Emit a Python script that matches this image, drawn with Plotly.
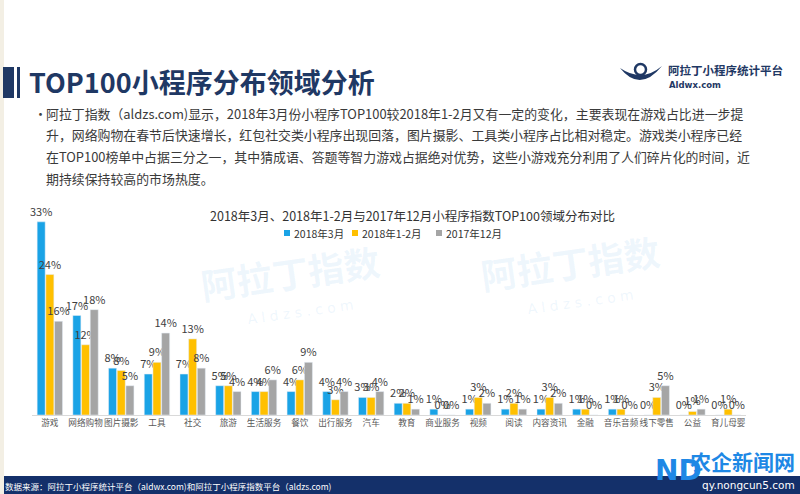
import plotly.graph_objects as go

categories = ["游戏", "网络购物", "图片摄影", "工具", "社交", "旅游", "生活服务", "餐饮", "出行服务", "汽车",
              "教育", "商业服务", "视频", "阅读", "内容资讯", "金融", "音乐音频", "线下零售", "公益", "育儿母婴"]
series_names = ["2018年3月", "2018年1-2月", "2017年12月"]
mar_2018 = [33, 17, 8, 7, 7, 5, 4, 4, 4, 3, 2, 1, 1, 1, 1, 1, 1, 0, 0, 0]
janfeb_2018 = [24, 12, 7.6, 9, 13, 5, 4, 6, 2.6, 3, 2, 0, 3, 2, 3, 1, 1, 3, 0.6, 1]
dec_2017 = [16, 18, 5, 14, 8, 4, 6, 9, 4, 4, 1, 0, 2, 1, 2, 0, 0, 5, 1, 0]
colors = ["#1AA3E6", "#FFC000", "#A5A5A5"]

paragraph = [
    "阿拉丁指数（aldzs.com)显示，2018年3月份小程序TOP100较2018年1-2月又有一定的变化，主要表现在游戏占比进一步提",
    "升，网络购物在春节后快速增长，红包社交类小程序出现回落，图片摄影、工具类小程序占比相对稳定。游戏类小程序已经",
    "在TOP100榜单中占据三分之一，其中猜成语、答题等智力游戏占据绝对优势，这些小游戏充分利用了人们碎片化的时间，近",
    "期持续保持较高的市场热度。",
]

W, H = 800, 494
def px(x):
    return x / W
def py(y):
    return 1 - y / H

FONT = "Noto Sans CJK SC"
fig = go.Figure()
for name, vals, col in zip(series_names, [mar_2018, janfeb_2018, dec_2017], colors):
    fig.add_trace(go.Bar(
        x=categories, y=vals, name=name, marker_color=col,
        texttemplate="%{y:.0f}%", textposition="outside", cliponaxis=False,
        constraintext="none",
        textfont=dict(family=FONT, size=11, color="#404040"),
    ))

annotations = []
# title
annotations.append(dict(x=px(27), y=py(81), xref="paper", yref="paper", xanchor="left", yanchor="middle",
                        text="<b>TOP100小程序分布领域分析</b>", showarrow=False,
                        font=dict(family=FONT, size=27, color="#1F3864")))
# bullet + paragraph
annotations.append(dict(x=px(32), y=py(113), xref="paper", yref="paper", xanchor="left", yanchor="middle",
                        text="•", showarrow=False, font=dict(family=FONT, size=13, color="#404040")))
for i, line in enumerate(paragraph):
    annotations.append(dict(x=px(44), y=py(113 + i * 21.8), xref="paper", yref="paper", xanchor="left",
                            yanchor="middle", text=line, showarrow=False,
                            font=dict(family=FONT, size=12.9, color="#3A3A3A")))
# logo text
annotations.append(dict(x=px(666), y=py(70), xref="paper", yref="paper", xanchor="left", yanchor="middle",
                        text="<b>阿拉丁小程序统计平台</b>", showarrow=False,
                        font=dict(family=FONT, size=11.5, color="#1F3864")))
annotations.append(dict(x=px(667), y=py(85), xref="paper", yref="paper", xanchor="left", yanchor="middle",
                        text="<b>Aldwx.com</b>", showarrow=False,
                        font=dict(family="DejaVu Sans", size=8.5, color="#1F3864")))
# chart title
annotations.append(dict(x=px(412), y=py(215), xref="paper", yref="paper", xanchor="center", yanchor="middle",
                        text="2018年3月、2018年1-2月与2017年12月小程序指数TOP100领域分布对比", showarrow=False,
                        font=dict(family=FONT, size=12.5, color="#333333")))
# custom legend
legend_pos = [287, 355, 439]
shapes = []
for lx, name, col in zip(legend_pos, series_names, colors):
    shapes.append(dict(type="rect", xref="paper", yref="paper", x0=px(lx - 3), x1=px(lx + 3),
                       y0=py(236), y1=py(230), fillcolor=col, line_width=0))
    annotations.append(dict(x=px(lx + 5), y=py(233), xref="paper", yref="paper", xanchor="left",
                            yanchor="middle", text=name, showarrow=False,
                            font=dict(family=FONT, size=10.5, color="#333333")))
# faint watermark in chart
for wx, wy in [(290, 272), (570, 262)]:
    annotations.append(dict(x=px(wx), y=py(wy), xref="paper", yref="paper", xanchor="center", yanchor="middle",
                            text="<b>阿拉丁指数</b>", showarrow=False, textangle=-8,
                            font=dict(family=FONT, size=36, color="rgba(120,190,235,0.13)")))
    annotations.append(dict(x=px(wx + 10), y=py(wy + 40), xref="paper", yref="paper", xanchor="center",
                            yanchor="middle", text="A l d z s . c o m", showarrow=False, textangle=-8,
                            font=dict(family="DejaVu Sans", size=14, color="rgba(120,190,235,0.13)")))
# footer text
annotations.append(dict(x=px(3), y=py(486), xref="paper", yref="paper", xanchor="left", yanchor="middle",
                        text="数据来源：阿拉丁小程序统计平台（aldwx.com)和阿拉丁小程序指数平台（aldzs.com)",
                        showarrow=False, font=dict(family=FONT, size=8.5, color="#FFFFFF")))
# site watermark
annotations.append(dict(x=px(688), y=py(461), xref="paper", yref="paper", xanchor="left", yanchor="middle",
                        text="<b>农企新闻网</b>", showarrow=False,
                        font=dict(family=FONT, size=21, color="#1E88E5")))
annotations.append(dict(x=px(700), y=py(485), xref="paper", yref="paper", xanchor="left", yanchor="middle",
                        text="qy.nongcun5.com", showarrow=False,
                        font=dict(family="DejaVu Sans", size=10.5, color="#FFFFFF")))
annotations.append(dict(x=px(653), y=py(470), xref="paper", yref="paper", xanchor="left", yanchor="middle",
                        text="<b>ND</b>", showarrow=False,
                        font=dict(family="DejaVu Sans", size=28, color="#1E88E5")))

shapes += [
    # left cream edge
    dict(type="rect", xref="paper", yref="paper", x0=0, x1=px(4), y0=0, y1=1, fillcolor="#F3EFE4", line_width=0),
    # title bars
    dict(type="rect", xref="paper", yref="paper", x0=px(3), x1=px(14), y0=py(98), y1=py(67),
         fillcolor="#1F3864", line_width=0),
    dict(type="rect", xref="paper", yref="paper", x0=px(17), x1=px(20), y0=py(98), y1=py(67),
         fillcolor="#1F3864", line_width=0),
    # footer band
    dict(type="rect", xref="paper", yref="paper", x0=0, x1=1, y0=0, y1=py(476),
         fillcolor="#14306A", line_width=0, layer="below"),
    # logo swoosh
    dict(type="path", xref="paper", yref="paper",
         path=f"M {px(620)},{py(68)} Q {px(640)},{py(93)} {px(662)},{py(66)} Q {px(642)},{py(83)} {px(620)},{py(68)} Z",
         fillcolor="#1F3864", line_width=0),
    dict(type="circle", xref="paper", yref="paper", x0=px(635), x1=px(646), y0=py(75), y1=py(64),
         line=dict(color="#1F3864", width=2.5)),
]

fig.update_layout(
    width=W, height=H, margin=dict(l=0, r=0, t=0, b=0),
    paper_bgcolor="#FFFFFF", plot_bgcolor="rgba(0,0,0,0)",
    barmode="group", bargap=0.27, bargroupgap=0.08,
    xaxis=dict(domain=[px(32), px(746)], showgrid=False, showline=True, linecolor="#D9D9D9", linewidth=1,
               ticks="", tickangle=0, tickfont=dict(family=FONT, size=8.6, color="#595959")),
    yaxis=dict(domain=[py(415), py(216)], range=[0, 34], visible=False, showgrid=False),
    annotations=annotations, shapes=shapes,
    showlegend=False,
)
fig.write_html("out.html", config={"displayModeBar": False},
               post_script="document.body.style.margin='0';document.body.style.padding='0';"
                           "document.body.style.overflow='hidden';")
